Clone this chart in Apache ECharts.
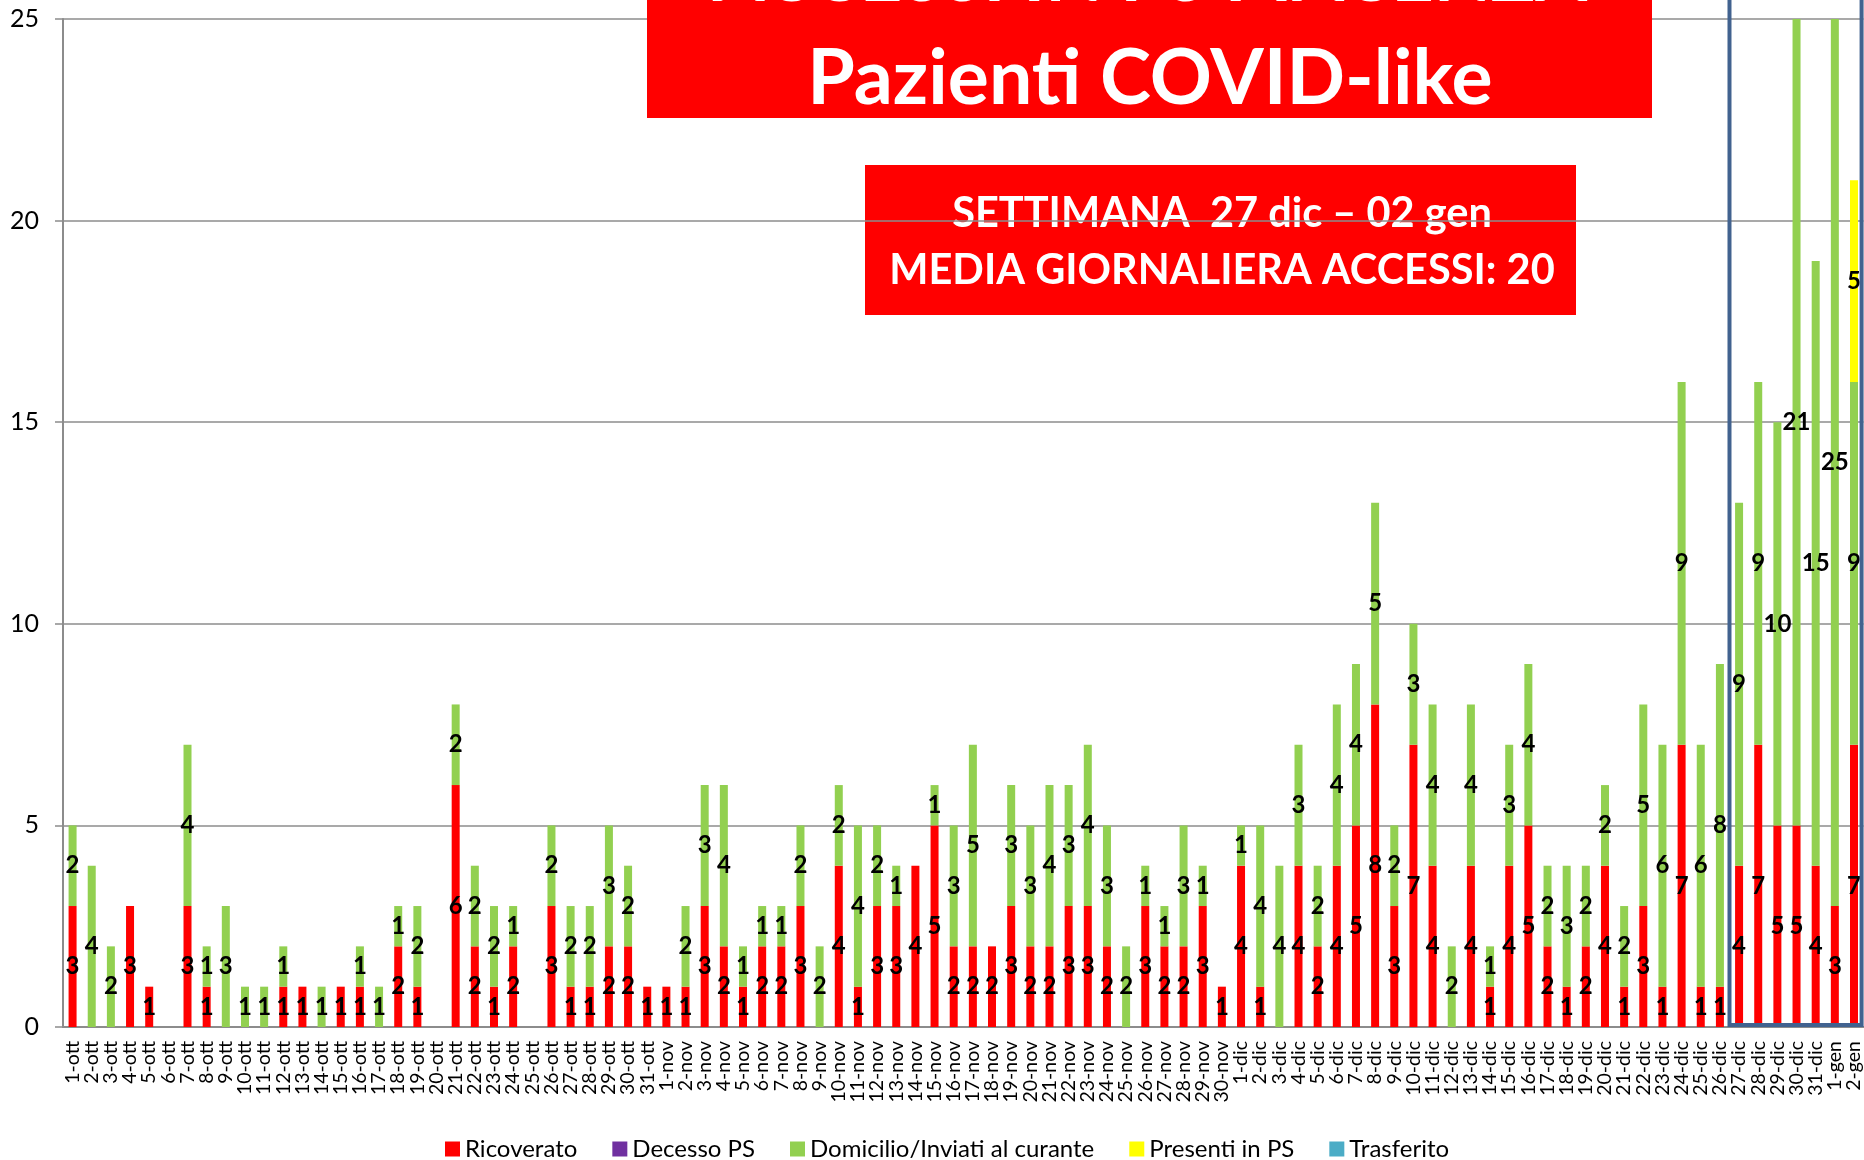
<!DOCTYPE html>
<html>
<head>
<meta charset="utf-8">
<title>Accessi PS Piacenza - Pazienti COVID-like</title>
<script src="https://cdn.jsdelivr.net/npm/echarts@6/dist/echarts.min.js"></script>
<style>
  html, body { margin: 0; padding: 0; background: #fff; }
  #chart { width: 1864px; height: 1160px; }
</style>
</head>
<body>
<div id="chart"></div>
<script>
  // giorni (asse x)
  var giorni = [
    '1-ott','2-ott','3-ott','4-ott','5-ott','6-ott','7-ott','8-ott','9-ott','10-ott',
    '11-ott','12-ott','13-ott','14-ott','15-ott','16-ott','17-ott','18-ott','19-ott','20-ott',
    '21-ott','22-ott','23-ott','24-ott','25-ott','26-ott','27-ott','28-ott','29-ott','30-ott','31-ott',
    '1-nov','2-nov','3-nov','4-nov','5-nov','6-nov','7-nov','8-nov','9-nov','10-nov',
    '11-nov','12-nov','13-nov','14-nov','15-nov','16-nov','17-nov','18-nov','19-nov','20-nov',
    '21-nov','22-nov','23-nov','24-nov','25-nov','26-nov','27-nov','28-nov','29-nov','30-nov',
    '1-dic','2-dic','3-dic','4-dic','5-dic','6-dic','7-dic','8-dic','9-dic','10-dic',
    '11-dic','12-dic','13-dic','14-dic','15-dic','16-dic','17-dic','18-dic','19-dic','20-dic',
    '21-dic','22-dic','23-dic','24-dic','25-dic','26-dic','27-dic','28-dic','29-dic','30-dic','31-dic',
    '1-gen','2-gen'
  ];

  // valori per esito (ott / nov / dic / gen)
  var ricoverato = [
    3,0,0,3,1,0,3,1,0,0,0,1,1,0,1,1,0,2,1,0,6,2,1,2,0,3,1,1,2,2,1,
    1,1,3,2,1,2,2,3,0,4,1,3,3,4,5,2,2,2,3,2,2,3,3,2,0,3,2,2,3,1,
    4,1,0,4,2,4,5,8,3,7,4,0,4,1,4,5,2,1,2,4,1,3,1,7,1,1,4,7,5,5,4,
    3,7
  ];
  var decesso = [
    0,0,0,0,0,0,0,0,0,0,0,0,0,0,0,0,0,0,0,0,0,0,0,0,0,0,0,0,0,0,0,
    0,0,0,0,0,0,0,0,0,0,0,0,0,0,0,0,0,0,0,0,0,0,0,0,0,0,0,0,0,0,
    0,0,0,0,0,0,0,0,0,0,0,0,0,0,0,0,0,0,0,0,0,0,0,0,0,0,0,0,0,0,0,
    0,0
  ];
  var domicilio = [
    2,4,2,0,0,0,4,1,3,1,1,1,0,1,0,1,1,1,2,0,2,2,2,1,0,2,2,2,3,2,0,
    0,2,3,4,1,1,1,2,2,2,4,2,1,0,1,3,5,0,3,3,4,3,4,3,2,1,1,3,1,0,
    1,4,4,3,2,4,4,5,2,3,4,2,4,1,3,4,2,3,2,2,2,5,6,9,6,8,9,9,10,21,15,
    25,9
  ];
  var presenti = [
    0,0,0,0,0,0,0,0,0,0,0,0,0,0,0,0,0,0,0,0,0,0,0,0,0,0,0,0,0,0,0,
    0,0,0,0,0,0,0,0,0,0,0,0,0,0,0,0,0,0,0,0,0,0,0,0,0,0,0,0,0,0,
    0,0,0,0,0,0,0,0,0,0,0,0,0,0,0,0,0,0,0,0,0,0,0,0,0,0,0,0,0,0,0,
    0,5
  ];
  var trasferito = [
    0,0,0,0,0,0,0,0,0,0,0,0,0,0,0,0,0,0,0,0,0,0,0,0,0,0,0,0,0,0,0,
    0,0,0,0,0,0,0,0,0,0,0,0,0,0,0,0,0,0,0,0,0,0,0,0,0,0,0,0,0,0,
    0,0,0,0,0,0,0,0,0,0,0,0,0,0,0,0,0,0,0,0,0,0,0,0,0,0,0,0,0,0,0,
    0,0
  ];

  var yTicks = [0, 5, 10, 15, 20, 25];

  var FONT = 'Lato';

  function serie(nome, dati, colore) {
    return {
      name: nome,
      type: 'bar',
      stack: 'totale',
      barWidth: 8,
      data: dati,
      itemStyle: {color: colore},
      label: {
        show: true,
        position: 'inside',
        color: '#000',
        fontFamily: FONT,
        fontWeight: 'bold',
        fontSize: 24,
        textBorderWidth: 0,
        formatter: function (p) { return p.value > 0 ? p.value : ''; }
      }
    };
  }

  var chart = echarts.init(document.getElementById('chart'));
  var option = {
    animation: false,
    backgroundColor: '#fff',
    textStyle: {fontFamily: FONT},
    grid: {left: 63, right: 0, top: 19, bottom: 133, containLabel: false},
    legend: {
      left: 440,
      top: 1132,
      icon: 'rect',
      itemWidth: 15,
      itemHeight: 15,
      itemGap: 35,
      textStyle: {fontFamily: FONT, fontSize: 24, color: '#000'},
      data: ['Ricoverato', 'Decesso PS', 'Domicilio/Inviati al curante', 'Presenti in PS', 'Trasferito']
    },
    xAxis: {
      type: 'category',
      data: giorni,
      axisLine: {lineStyle: {color: '#8c8c8c', width: 2}},
      axisTick: {length: 7, lineStyle: {color: '#8c8c8c', width: 1.5}},
      axisLabel: {
        interval: 0,
        rotate: 90,
        margin: 14,
        fontSize: 19.5,
        color: '#000',
        fontFamily: FONT
      }
    },
    yAxis: {
      type: 'value',
      min: yTicks[0],
      max: yTicks[yTicks.length - 1],
      interval: 5,
      axisLine: {show: true, lineStyle: {color: '#8c8c8c', width: 2}},
      axisTick: {show: true, length: 8, lineStyle: {color: '#8c8c8c', width: 1.5}},
      axisLabel: {margin: 24, fontSize: 25, color: '#000', fontFamily: FONT},
      splitLine: {lineStyle: {color: '#8c8c8c', width: 1.5}}
    },
    series: [
      serie('Ricoverato', ricoverato, '#FF0000'),
      serie('Decesso PS', decesso, '#7030A0'),
      serie('Domicilio/Inviati al curante', domicilio, '#92D050'),
      serie('Presenti in PS', presenti, '#FFFF00'),
      serie('Trasferito', trasferito, '#4BACC6')
    ]
  };
  chart.setOption(option);

  // riquadro ultima settimana, calcolato dagli assi
  var x0 = chart.convertToPixel({xAxisIndex: 0}, 0);
  var x1 = chart.convertToPixel({xAxisIndex: 0}, 1);
  var banda = x1 - x0;
  var iniz = giorni.indexOf('27-dic');
  var fine = giorni.indexOf('2-gen');
  var fx0 = chart.convertToPixel({xAxisIndex: 0}, iniz) - banda / 2;
  var fx1 = chart.convertToPixel({xAxisIndex: 0}, fine) + banda / 2 - 2;
  var fy1 = chart.convertToPixel({yAxisIndex: 0}, 0) - 2;

  chart.setOption({
    graphic: [
      // titolo principale
      {
        type: 'rect', z: 10,
        shape: {x: 647, y: 0, width: 1005, height: 118},
        style: {fill: '#FF0000'}
      },
      {
        type: 'text', z: 11,
        x: 1150, y: -23,
        style: {
          text: 'ACCESSI IN PS PIACENZA',
          fill: '#fff', font: 'bold 74px ' + FONT,
          textAlign: 'center', textVerticalAlign: 'middle'
        }
      },
      {
        type: 'text', z: 11,
        x: 1150, y: 79,
        style: {
          text: 'Pazienti COVID-like',
          fill: '#fff', font: 'bold 77px ' + FONT,
          textAlign: 'center', textVerticalAlign: 'middle'
        }
      },
      // riquadro media settimanale (sotto la griglia)
      {
        type: 'rect', z: -1,
        shape: {x: 865, y: 165, width: 711, height: 150},
        style: {fill: '#FF0000'}
      },
      {
        type: 'text', z: -1, z2: 10,
        x: 1222, y: 214,
        style: {
          text: 'SETTIMANA  27 dic \u2013 02 gen',
          fill: '#fff', font: 'bold 41.5px ' + FONT,
          textAlign: 'center', textVerticalAlign: 'middle'
        }
      },
      {
        type: 'text', z: -1, z2: 10,
        x: 1222, y: 271,
        style: {
          text: 'MEDIA GIORNALIERA ACCESSI: 20',
          fill: '#fff', font: 'bold 41.5px ' + FONT,
          textAlign: 'center', textVerticalAlign: 'middle'
        }
      },
      // cornice ultima settimana
      {
        type: 'rect', z: 10,
        shape: {x: fx0, y: -10, width: fx1 - fx0, height: fy1 + 10},
        style: {fill: 'none', stroke: '#41628F', lineWidth: 4}
      }
    ]
  });
</script>
</body>
</html>
